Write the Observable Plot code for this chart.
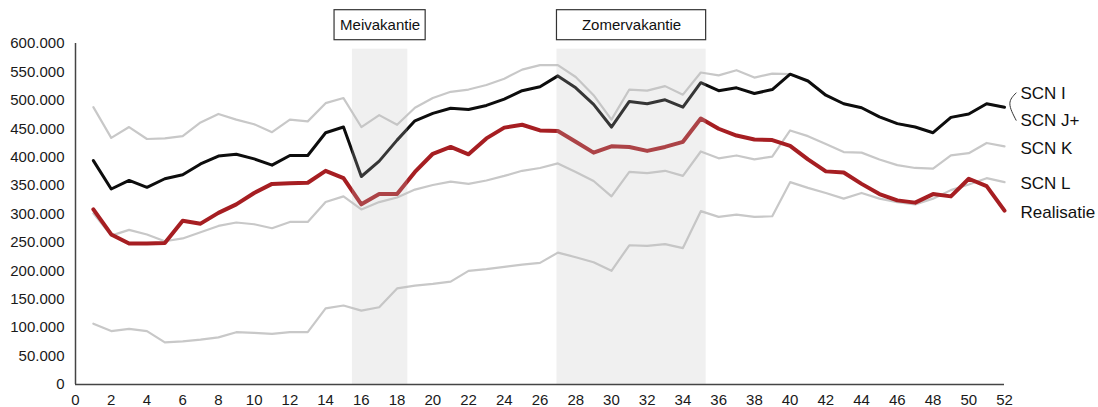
<!DOCTYPE html>
<html>
<head>
<meta charset="utf-8">
<script src="https://cdn.jsdelivr.net/npm/d3@7"></script>
<script src="https://cdn.jsdelivr.net/npm/@observablehq/plot@0.6"></script>
<style>
  html, body { margin: 0; padding: 0; background: #fff; }
  #chart { width: 1098px; height: 407px; overflow: hidden; }
</style>
</head>
<body>
<div id="chart"></div>
<script>
// ---- Data ----
const weeks = d3.range(1, 53);
const xTicks = d3.range(0, 53, 2);
const yTicks = d3.range(0, 600001, 50000);

const scnI = [488000,434000,453000,432000,433000,437000,461000,476000,466000,458000,444000,466000,463000,495000,504000,453000,474000,457000,487000,504000,515000,519000,527000,538000,554000,562000,562000,541000,509000,466000,519000,517000,525000,510000,549000,544000,553000,540000,547000,546000,534000,509000,494000,487000,471000,459000,453000,443000,470000,476000,494000,488000];
const scnJ = [394000,344000,359000,347000,362000,369000,388000,402000,405000,397000,386000,403000,403000,443000,453000,366000,393000,430000,464000,477000,486000,484000,491000,502000,517000,524000,543000,522000,493000,453000,498000,494000,501000,488000,531000,517000,522000,512000,519000,546000,534000,509000,494000,487000,471000,459000,453000,443000,470000,476000,494000,488000];
const scnK = [301000,262000,272000,264000,252000,257000,268000,279000,285000,282000,275000,286000,286000,321000,331000,308000,321000,329000,343000,351000,357000,353000,359000,367000,376000,381000,389000,374000,358000,331000,374000,372000,376000,367000,410000,398000,403000,396000,401000,447000,437000,423000,409000,408000,396000,386000,381000,380000,403000,407000,425000,419000];
const scnL = [107000,94000,98000,94000,74000,76000,79000,83000,92000,91000,89000,92000,92000,134000,139000,130000,136000,169000,174000,177000,181000,200000,203000,207000,211000,214000,232000,224000,215000,200000,245000,244000,247000,240000,305000,295000,299000,295000,296000,356000,346000,337000,327000,337000,327000,321000,317000,327000,342000,352000,363000,356000];
const realisatie = [308000,264000,248000,248000,249000,288000,283000,302000,317000,337000,353000,354000,355000,376000,363000,317000,335000,335000,374000,406000,418000,405000,433000,452000,457000,447000,446000,427000,408000,419000,418000,411000,418000,427000,468000,450000,438000,431000,430000,420000,396000,375000,373000,353000,335000,324000,320000,335000,331000,362000,349000,306000];

const vacationNames = ["Meivakantie", "Zomervakantie"];
const vacationStart = [15.5, 26.95];
const vacationEnd = [18.6, 35.3];

// ---- Build tables ----
const toRows = (vals) => weeks.map((w, i) => ({week: w, value: vals[i]}));
const vacations = vacationNames.map((name, i) => {
  const mid = (vacationStart[i] + vacationEnd[i]) / 2;
  return {
    name, start: vacationStart[i], end: vacationEnd[i], mid,
    bx1: Math.min(vacationStart[i], mid - 2.55),
    bx2: Math.max(vacationEnd[i], mid + 2.55)
  };
});

const nl = d3.formatLocale({decimal: ",", thousands: ".", grouping: [3], currency: ["€", ""]});
const fmt = nl.format(",.0f");

const last = (arr) => arr[arr.length - 1];
const lastWeek = last(weeks);
const jEnd = last(scnJ);
const bracket = [
  {x: lastWeek + 0.65, y: jEnd + 25000},
  {x: lastWeek + 0.3, y: jEnd + 6000},
  {x: lastWeek + 0.65, y: jEnd - 23000}
];

const labelStyle = {x: () => lastWeek, textAnchor: "start", dx: 16, fontSize: 17, fill: "#111"};

const chart = Plot.plot({
  width: 1098,
  height: 407,
  marginLeft: 75,
  marginRight: 94,
  marginTop: 43,
  marginBottom: 23,
  style: {fontFamily: "'Liberation Sans', Arial, sans-serif", fontSize: "15px", color: "#1a1a1a", background: "#fff", overflow: "visible"},
  x: {domain: [0, 52]},
  y: {domain: [0, 600000]},
  marks: [
    Plot.axisY({ticks: yTicks, tickFormat: fmt, tickSize: 0, tickPadding: 11, fontSize: 15, label: null}),
    Plot.axisX({ticks: xTicks, tickSize: 0, tickPadding: 10, fontSize: 15, label: null}),
    Plot.line(toRows(scnL), {x: "week", y: "value", stroke: "#c8c8c8", strokeWidth: 2.2, strokeLinejoin: "round"}),
    Plot.line(toRows(scnK), {x: "week", y: "value", stroke: "#c8c8c8", strokeWidth: 2.2, strokeLinejoin: "round"}),
    Plot.line(toRows(scnI), {x: "week", y: "value", stroke: "#c8c8c8", strokeWidth: 2.2, strokeLinejoin: "round"}),
    Plot.line(toRows(realisatie), {x: "week", y: "value", stroke: "#a61e22", strokeWidth: 4, strokeLinejoin: "round"}),
    Plot.line(toRows(scnJ), {x: "week", y: "value", stroke: "#0d0d0d", strokeWidth: 3, strokeLinejoin: "round"}),
    // vacation shading (drawn over the lines, semi-transparent)
    Plot.rect(vacations, {x1: "start", x2: "end", y1: 0, y2: 590000, fill: "#bfbfbf", fillOpacity: 0.235}),
    // vacation label boxes
    Plot.rect(vacations, {x1: "bx1", x2: "bx2", y1: 605800, y2: 658600, fill: "#fff", stroke: "#333", strokeWidth: 1.2}),
    Plot.text(vacations, {x: "mid", y: 632200, text: "name", fontSize: 15, fill: "#111"}),
    // axis lines
    Plot.ruleX([0], {stroke: "#444", strokeWidth: 1.5}),
    Plot.ruleY([0], {stroke: "#444", strokeWidth: 1.5}),
    // bracket + end labels
    Plot.line(bracket, {x: "x", y: "y", stroke: "#333", strokeWidth: 1, curve: "natural"}),
    Plot.text(["SCN I"], {...labelStyle, y: () => jEnd, dy: -14, text: d => d}),
    Plot.text(["SCN J+"], {...labelStyle, y: () => jEnd, dy: 13, text: d => d}),
    Plot.text(["SCN K"], {...labelStyle, y: () => last(scnK), dy: 2, text: d => d}),
    Plot.text(["SCN L"], {...labelStyle, y: () => last(scnL), dy: 1, text: d => d}),
    Plot.text(["Realisatie"], {...labelStyle, y: () => last(realisatie), dy: 2, text: d => d})
  ]
});
document.getElementById("chart").appendChild(chart);
</script>
</body>
</html>
